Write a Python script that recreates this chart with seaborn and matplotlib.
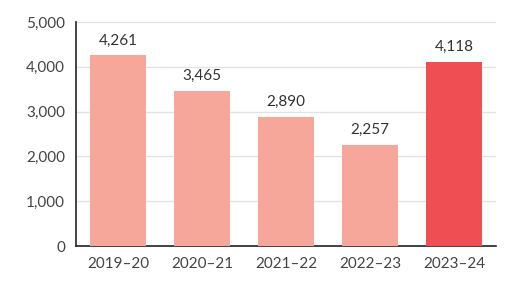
import matplotlib
matplotlib.use("Agg")
import matplotlib.pyplot as plt
import seaborn as sns
import pandas as pd

years = ["2019\u201320", "2020\u201321", "2021\u201322", "2022\u201323", "2023\u201324"]
values = [4261, 3465, 2890, 2257, 4118]
colors = ["#F7A79A", "#F7A79A", "#F7A79A", "#F7A79A", "#EF4E53"]

sns.set_style("white")
plt.rcParams['font.family'] = ['Lato', 'DejaVu Sans']

df = pd.DataFrame({"year": years, "value": values})
fig = plt.figure(figsize=(5.05, 2.83), dpi=100)
ax = fig.add_axes([76/505, 1-246/283, (496-76)/505, (246-22)/283])
sns.barplot(data=df, x="year", y="value", hue="year", palette=colors, legend=False,
            width=0.67, saturation=1, linewidth=0, ax=ax, zorder=3)
ax.set_xlim(-0.5, 4.5)
ax.set_ylim(0, 5000)
ax.set_yticks(range(0, 5001, 1000))
ax.set_yticklabels([f"{v:,}" for v in range(0, 5001, 1000)])
ax.yaxis.grid(True, color="#e3e3e3", linewidth=1, zorder=0)
ax.set_xlabel("")
ax.set_ylabel("")
for s in ["top", "right"]:
    ax.spines[s].set_visible(False)
for s in ["left", "bottom"]:
    ax.spines[s].set_color("#222222")
    ax.spines[s].set_linewidth(1.2)
ax.tick_params(axis="both", length=0, labelsize=11, colors="#444444", pad=8)
for i, v in enumerate(values):
    ax.text(i, v + 170, f"{v:,}", ha="center", va="bottom", fontsize=11, color="#333333")
fig.savefig("out.png", dpi=100)
